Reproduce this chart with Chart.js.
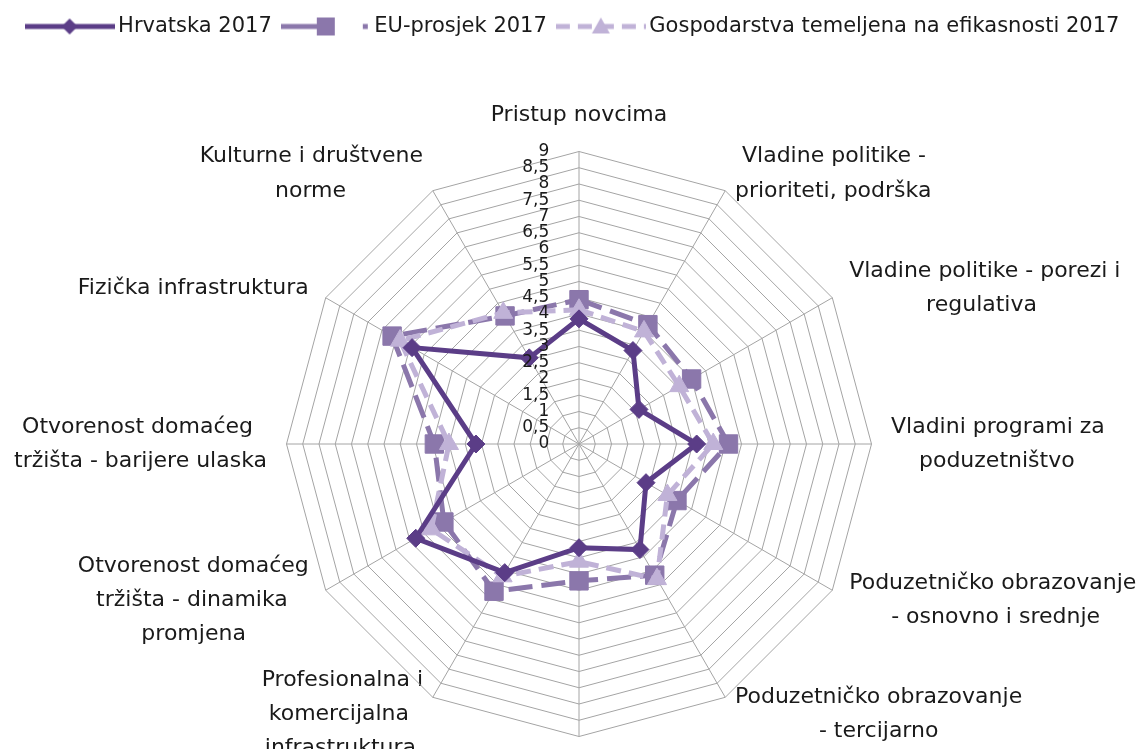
<!DOCTYPE html>
<html>
<head>
<meta charset="utf-8">
<script src="https://cdn.jsdelivr.net/npm/chart.js@4.4.1/dist/chart.umd.min.js"></script>
<style>
  html, body { margin: 0; padding: 0; background: #ffffff; overflow: hidden; }
  #wrap { position: relative; width: 1141px; height: 876px; }
</style>
</head>
<body>
<div id="wrap"><canvas id="radarChart"></canvas></div>
<script>
// Categories, clockwise from the top (the bottom one is cut off in the original picture)
var categories = [
  'Pristup novcima',
  ['Vladine politike -', 'prioriteti, podrška'],
  ['Vladine politike - porezi i', 'regulativa'],
  ['Vladini programi za', 'poduzetništvo'],
  ['Poduzetničko obrazovanje', '- osnovno i srednje'],
  ['Poduzetničko obrazovanje', '- tercijarno'],
  ['Transfer istraživanja', 'i razvoja'],
  ['Profesionalna i', 'komercijalna', 'infrastruktura'],
  ['Otvorenost domaćeg', 'tržišta - dinamika', 'promjena'],
  ['Otvorenost domaćeg', 'tržišta - barijere ulaska'],
  'Fizička infrastruktura',
  ['Kulturne i društvene', 'norme']
];

var seriesNames = ['Hrvatska 2017', 'EU-prosjek 2017', 'Gospodarstva temeljena na efikasnosti 2017'];

var hrvatska   = [3.85, 3.32, 2.13, 3.62, 2.38, 3.75, 3.19, 4.57, 5.80, 3.17, 5.93, 3.06];
var euProsjek  = [4.44, 4.24, 4.00, 4.60, 3.48, 4.66, 4.21, 5.23, 4.80, 4.45, 6.64, 4.55];
var efikasnost = [4.13, 4.00, 3.56, 4.13, 3.14, 4.80, 3.62, 4.70, 5.25, 4.00, 6.36, 4.66];

var tickValues = [0, 0.5, 1, 1.5, 2, 2.5, 3, 3.5, 4, 4.5, 5, 5.5, 6, 6.5, 7, 7.5, 8, 8.5, 9];
var tickLabels = ['0', '0,5', '1', '1,5', '2', '2,5', '3', '3,5', '4', '4,5', '5', '5,5', '6', '6,5', '7', '7,5', '8', '8,5', '9'];

var colorDark  = '#5b3d87';
var colorMid   = '#8b77ab';
var colorLight = '#c0b2d7';
var textColor  = '#1a1a1a';
var gridColor  = '#a4a4a4';
var fontFamily = '"DejaVu Sans", sans-serif';
var labelSize = 22;
var tickSize = 17;

var measureCtx = document.createElement('canvas').getContext('2d');

// tick labels sit left of the vertical axis, so pad them with no-break spaces (chart.js centres tick text)
function tickText(index) {
  var s = tickLabels[index];
  measureCtx.font = tickSize + 'px ' + fontFamily;
  var w = measureCtx.measureText(s).width;
  var sp = measureCtx.measureText('\u00a0').width;
  var n = Math.round((w + 62) / sp);
  return s + '\u00a0'.repeat(n);
}

// centre the lines of a multi line label within its block
function centerLines(label, side) {
  if (!Array.isArray(label)) return label;
  measureCtx.font = labelSize + 'px ' + fontFamily;
  var widths = label.map(function (l) { return measureCtx.measureText(l).width; });
  var max = Math.max.apply(null, widths);
  var sp = measureCtx.measureText(' ').width;
  return label.map(function (l, i) {
    var n = Math.round((max - widths[i]) / 2 / sp);
    if (side === 'left') return ' '.repeat(n) + l;
    if (side === 'right') return l + ' '.repeat(n);
    return l;
  });
}

var displayLabels = categories.map(function (label, i) {
  var side = (i === 0 || i === 6) ? 'center' : (i < 6 ? 'left' : 'right');
  return centerLines(label, side);
});

// legend marker: line + point symbol, like the excel legend
function makeMarker(color, dash, shape) {
  var c = document.createElement('canvas');
  c.width = 90; c.height = 24;
  var g = c.getContext('2d');
  g.strokeStyle = color;
  g.fillStyle = color;
  g.lineWidth = 5;
  g.setLineDash(dash);
  g.beginPath();
  g.moveTo(0, 12);
  g.lineTo(90, 12);
  g.stroke();
  g.setLineDash([]);
  g.beginPath();
  if (shape === 'diamond') {
    g.moveTo(45, 4); g.lineTo(53, 12); g.lineTo(45, 20); g.lineTo(37, 12);
  } else if (shape === 'square') {
    g.rect(36, 3, 18, 18);
  } else {
    g.moveTo(45, 3); g.lineTo(54, 19); g.lineTo(36, 19);
  }
  g.closePath();
  g.fill();
  return c;
}

var legendMarkers = [
  makeMarker(colorDark, [], 'diamond'),
  makeMarker(colorMid, [38, 44, 5, 40], 'square'),
  makeMarker(colorLight, [14, 8], 'triangle')
];

// excel centres the category labels on their anchor; chart.js hangs them above/below it
var centerLabelsPlugin = {
  id: 'centerLabels',
  afterLayout: function (chart) {
    var scale = chart.scales.r;
    var items = scale._pointLabelItems || [];
    var n = items.length;
    items.forEach(function (item, i) {
      var angle = i * 360 / n;
      var h = item.bottom - item.top;
      var dy = 0;
      if ((angle > 0 && angle < 90) || angle > 270) dy = h / 2;
      else if (angle > 90 && angle < 270 && angle !== 180) dy = -h / 2;
      item.y += dy;
      item.top += dy;
      item.bottom += dy;
    });
  }
};

var ctx = document.getElementById('radarChart').getContext('2d');
var radarChart = new Chart(ctx, {
  type: 'radar',
  data: {
    labels: displayLabels,
    datasets: [{
      label: seriesNames[0],
      data: hrvatska,
      borderColor: colorDark,
      backgroundColor: colorDark,
      borderWidth: 5,
      fill: false,
      pointStyle: 'rectRot',
      pointRadius: 9,
      pointHoverRadius: 9,
      pointBackgroundColor: colorDark,
      pointBorderColor: colorDark,
      pointBorderWidth: 1,
      order: 0
    }, {
      label: seriesNames[1],
      data: euProsjek,
      borderColor: colorMid,
      backgroundColor: colorMid,
      borderWidth: 5,
      borderDash: [24, 9],
      fill: false,
      pointStyle: 'rect',
      pointRadius: 13,
      pointHoverRadius: 13,
      pointBackgroundColor: colorMid,
      pointBorderColor: colorMid,
      pointBorderWidth: 1,
      order: 2
    }, {
      label: seriesNames[2],
      data: efikasnost,
      borderColor: colorLight,
      backgroundColor: colorLight,
      borderWidth: 5,
      borderDash: [15, 8],
      fill: false,
      pointStyle: 'triangle',
      pointRadius: 11,
      pointHoverRadius: 11,
      pointBackgroundColor: colorLight,
      pointBorderColor: colorLight,
      pointBorderWidth: 1,
      order: 1
    }]
  },
  plugins: [centerLabelsPlugin],
  options: {
    responsive: true,
    maintainAspectRatio: false,
    animation: false,
    layout: { padding: { top: 0, left: 10, right: 0, bottom: 0 } },
    plugins: {
      tooltip: { enabled: false },
      legend: {
        position: 'top',
        labels: {
          color: textColor,
          font: { family: fontFamily, size: 21 },
          usePointStyle: true,
          pointStyleWidth: 76,
          padding: 16,
          generateLabels: function (chart) {
            return chart.data.datasets.map(function (ds, i) {
              return {
                text: ds.label,
                datasetIndex: i,
                pointStyle: legendMarkers[i],
                fillStyle: ds.borderColor,
                strokeStyle: ds.borderColor,
                lineWidth: 0,
                fontColor: textColor,
                hidden: false
              };
            });
          }
        }
      }
    },
    scales: {
      r: {
        min: -0.001,
        max: 9,
        afterBuildTicks: function (scale) {
          scale.ticks = tickValues.map(function (v) { return { value: v }; });
        },
        ticks: {
          z: 1,
          showLabelBackdrop: false,
          color: textColor,
          font: { family: fontFamily, size: tickSize },
          callback: function (value, index) { return tickText(index); }
        },
        grid: { color: gridColor, lineWidth: 1 },
        angleLines: { color: gridColor, lineWidth: 1 },
        pointLabels: {
          color: textColor,
          font: { family: fontFamily, size: labelSize, lineHeight: 1.55 },
          padding: 9
        }
      }
    }
  }
});
</script>
</body>
</html>
